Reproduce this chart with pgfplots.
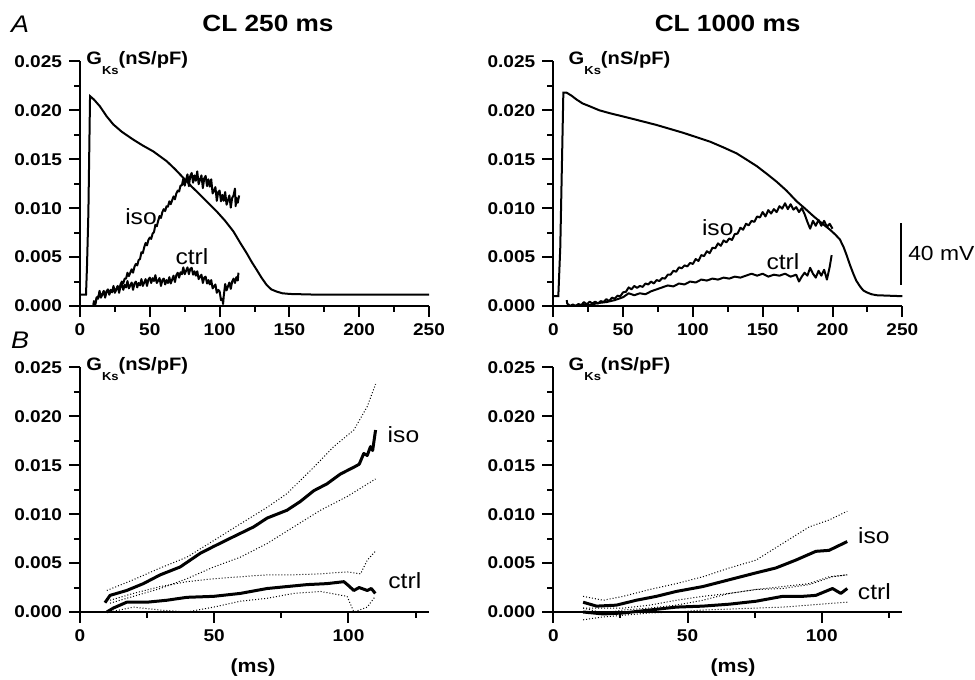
\documentclass[border=0pt]{standalone}
\usepackage{pgfplots}
\usepackage{fontspec}
\pgfplotsset{compat=1.18}
\setmainfont[FakeStretch=1.12]{Liberation Sans}

\pgfplotsset{
  gk/.style={
    scale only axis, width=174.5pt, height=122.3pt,
    axis lines=left, axis line style={-, line width=1pt},
    tick align=outside, major tick length=5.5pt, minor tick length=3pt,
    every tick/.style={black, line width=1pt},
    ymin=0, ymax=0.025, ytick={0,0.005,0.01,0.015,0.02,0.025},
    minor y tick num=1, scaled y ticks=false,
    yticklabel style={/pgf/number format/.cd, fixed, fixed zerofill, precision=3},
    /pgf/number format/assume math mode=true,
    ticklabel style={font=\fontsize{8.5}{10}\selectfont\bfseries},
    clip=false,
  },
  xtop/.style={xmin=0, xmax=250, xtick={0,50,...,250}, minor x tick num=1},
  xbot/.style={xmin=0, xmax=130, xtick={0,50,100}, minor xtick={25,75,125}},
  ap/.style={black, line width=1pt},
  trace/.style={black, line width=1pt, line join=round},
  mean/.style={black, line width=1.5pt, line join=round},
  band/.style={black, line width=0.5pt, densely dotted},
}
\tikzset{lab/.style={font=\fontsize{11}{12}\selectfont}}
\newcommand{\gks}{\fontsize{9}{10}\selectfont\bfseries G\raisebox{-5pt}{\fontsize{5.8}{7}\selectfont Ks}(nS/pF)}

\begin{document}
\begin{tikzpicture}
\useasboundingbox (0,0) rectangle (487.5pt,340pt);

\node[font=\fontsize{12}{14}\selectfont\itshape] at (10pt,328pt) {A};
\node[font=\fontsize{12}{14}\selectfont\itshape] at (10pt,170pt) {B};
\node[font=\fontsize{11.7}{13}\selectfont\bfseries] at (134pt,328.5pt) {CL 250 ms};
\node[font=\fontsize{11.7}{13}\selectfont\bfseries] at (363.8pt,328.5pt) {CL 1000 ms};
\node[font=\fontsize{9.5}{11}\selectfont\bfseries] at (126.5pt,6pt) {(ms)};
\node[font=\fontsize{9.5}{11}\selectfont\bfseries] at (366.5pt,6pt) {(ms)};

% A, CL 250 ms
\begin{axis}[gk, xtop, at={(40pt,187pt)}, anchor=south west]
\addplot[ap] coordinates {(0,0.00116) (4.3,0.00116) (5,0.004) (6,0.0095) (7.2,0.02145) (10,0.0211) (14.3,0.0204) (19,0.0194) (23.9,0.01855) (30,0.0178) (38.2,0.0170) (45,0.0164) (52.5,0.0158) (62.1,0.0148) (68,0.0140) (74,0.0131) (80,0.0122) (86,0.01137) (92,0.0105) (97.9,0.00967) (104,0.0087) (109.9,0.00762) (115,0.0064) (119.4,0.0054) (123,0.0045) (126.6,0.00369) (130,0.0029) (133.7,0.00215) (137,0.0017) (140.9,0.00147) (145,0.0013) (150.4,0.00123) (169.5,0.00116) (250,0.00116)};
% iso
\addplot[trace] coordinates {(9.6,0.0000) (10,0.0004) (11,0.0003) (12,0.0009) (13,0.00085) (14,0.0014) (15,0.00095) (16,0.0012) (17,0.00145) (18,0.0010) (19,0.00145) (20,0.0016) (21,0.00125) (22,0.0016) (23,0.00145) (24,0.0019) (25,0.00145) (26,0.0017) (27,0.0020) (28,0.0016) (29,0.0022) (30,0.0025) (31,0.0023) (32,0.0028) (33,0.0028) (34,0.0034) (35,0.00305) (36,0.0034) (37,0.00375) (38,0.0034) (39,0.0040) (40,0.0043) (41,0.00415) (42,0.0047) (43,0.0048) (44,0.0055) (45,0.0054) (46,0.0060) (47,0.00645) (48,0.0062) (49,0.00675) (50,0.0070) (51,0.00685) (52,0.0074) (53,0.00755) (54,0.0083) (55,0.00815) (56,0.0087) (57,0.0092) (58,0.0090) (59,0.0096) (60,0.0099) (61,0.0097) (62,0.0102) (63,0.01015) (64,0.0107) (65,0.0104) (66,0.0108) (67,0.0112) (68,0.0109) (69,0.0115) (70,0.0118) (71,0.0117) (72,0.0123) (73,0.01235) (74,0.0130) (75,0.0123) (76,0.0129) (77,0.01345) (78,0.01225) (79,0.0133) (80,0.0136) (81,0.0126) (82,0.01335) (83,0.0128) (84,0.01375) (85,0.01245) (86,0.0129) (87,0.01335) (88,0.01205) (89,0.01305) (90,0.0133) (91,0.01225) (92,0.01295) (93,0.0122) (94,0.01295) (95,0.0115) (96,0.0118) (97,0.01215) (98,0.01075) (99,0.01165) (100,0.0118) (101,0.0107) (102,0.01135) (103,0.01075) (104,0.01165) (105,0.01035) (106,0.0108) (107,0.0113) (108,0.01005) (109,0.01105) (110,0.0113) (111,0.0120) (111.5,0.0102) (112,0.01105) (113,0.01055) (114,0.0113)};
% ctrl
\addplot[trace] coordinates {(9.6,0.0000) (10,0.0005) (11,0.00015) (12,0.00085) (13,0.00075) (14,0.00155) (15,0.00085) (16,0.0012) (17,0.00155) (18,0.00085) (19,0.0015) (20,0.0017) (21,0.00115) (22,0.00165) (23,0.0014) (24,0.00205) (25,0.00135) (26,0.0017) (27,0.00205) (28,0.00135) (29,0.0020) (30,0.0022) (31,0.00165) (32,0.00215) (33,0.0019) (34,0.00255) (35,0.0018) (36,0.0021) (37,0.0024) (38,0.00165) (39,0.0023) (40,0.0025) (41,0.0019) (42,0.00235) (43,0.0021) (44,0.00275) (45,0.00205) (46,0.0024) (47,0.00275) (48,0.00205) (49,0.0027) (50,0.0029) (51,0.00235) (52,0.00285) (53,0.00255) (54,0.00315) (55,0.00235) (56,0.0026) (57,0.00285) (58,0.00205) (59,0.00265) (60,0.0028) (61,0.0022) (62,0.00265) (63,0.00235) (64,0.00295) (65,0.0023) (66,0.0027) (67,0.0031) (68,0.00245) (69,0.00315) (70,0.0034) (71,0.0029) (72,0.00345) (73,0.00325) (74,0.00395) (75,0.00325) (76,0.0036) (77,0.00395) (78,0.00325) (79,0.0038) (80,0.0039) (81,0.0032) (82,0.00355) (83,0.0031) (84,0.00355) (85,0.00275) (86,0.0030) (87,0.0032) (88,0.00235) (89,0.0029) (90,0.0030) (91,0.0023) (92,0.00265) (93,0.0022) (94,0.00265) (95,0.0018) (96,0.0020) (97,0.0022) (98,0.00135) (99,0.00165) (100,0.0015) (101,0.0006) (102,0.00075) (102.5,0.0002) (103,0.00105) (104,0.00225) (105,0.0016) (106,0.0020) (107,0.0024) (108,0.00175) (109,0.0025) (110,0.0028) (111,0.00235) (112,0.00295) (113,0.0026) (113.5,0.0034)};
\node[inner sep=0pt, anchor=base west, xshift=3pt, yshift=-1.7pt] at (rel axis cs:0,1) {\gks};
\node[lab] at (axis cs:43.7,0.0091) {iso};
\node[lab] at (axis cs:80.2,0.0050) {ctrl};
\end{axis}

% A, CL 1000 ms
\begin{axis}[gk, xtop, at={(276.65pt,187pt)}, anchor=south west]
\addplot[ap] coordinates {(0,0.00102) (3.6,0.00102) (5,0.006) (7.2,0.0218) (9.6,0.0218) (13,0.0215) (16.7,0.0211) (21,0.0207) (26.3,0.0204) (33,0.0200) (40.6,0.0197) (54.9,0.0192) (74,0.0185) (93.1,0.0177) (112.2,0.0168) (122,0.0162) (131.3,0.0156) (138,0.0150) (145.7,0.0143) (153,0.0135) (160,0.0127) (167,0.0118) (174.3,0.0107) (180,0.0100) (186.2,0.0092) (192,0.0085) (198.2,0.0078) (202,0.0073) (205.3,0.0068) (208,0.0060) (210.1,0.0052) (212.5,0.0042) (214.9,0.0033) (217,0.0026) (219.7,0.0020) (222,0.0016) (224.4,0.0014) (228,0.0012) (231.6,0.0011) (250,0.0010)};
% iso
\addplot[trace] coordinates {(9.6,0.0006) (10,0.00025) (12,0.0000) (14,0.00015) (16,0.0000) (18,0.0002) (20,0.0001) (22,0.0004) (24,0.00015) (26,0.00045) (28,0.00025) (30,0.00045) (32,0.00025) (34,0.0005) (36,0.0004) (38,0.0007) (40,0.0005) (42,0.00085) (44,0.00075) (46,0.00105) (48,0.0010) (50,0.0014) (52,0.00145) (54,0.0019) (56,0.0017) (58,0.00205) (60,0.00185) (62,0.00205) (64,0.00195) (66,0.0023) (68,0.0022) (70,0.0025) (72,0.0023) (74,0.00265) (76,0.00255) (78,0.00285) (80,0.0028) (82,0.0032) (84,0.0032) (86,0.0036) (88,0.0035) (90,0.00395) (92,0.00385) (94,0.00415) (96,0.00405) (98,0.0044) (100,0.0043) (102,0.0048) (104,0.0046) (106,0.0052) (108,0.0051) (110,0.0056) (112,0.0054) (114,0.00595) (116,0.0059) (118,0.0064) (120,0.00615) (122,0.0067) (124,0.0065) (126,0.0069) (128,0.00675) (130,0.00735) (132,0.0074) (134,0.0080) (136,0.0078) (138,0.0084) (140,0.00825) (142,0.0087) (144,0.0086) (146,0.00915) (148,0.00905) (150,0.0096) (152,0.00915) (154,0.0098) (156,0.00945) (158,0.0099) (160,0.0096) (162,0.0102) (164,0.00995) (166,0.0105) (168,0.0099) (170,0.0104) (172,0.00985) (174,0.0101) (176,0.0096) (178,0.0100) (180,0.0094) (182,0.0086) (184,0.0079) (186,0.0087) (188,0.0082) (190,0.0088) (192,0.0082) (194,0.0087) (196,0.0081) (198,0.0084) (200,0.0079)};
% ctrl
\addplot[trace] coordinates {(9.6,0.0000) (14,0.0000) (20,0.0001) (26,0.0001) (32,0.0003) (38,0.0004) (44,0.0006) (50,0.0009) (54,0.0013) (58,0.0011) (62,0.0013) (66,0.0012) (70,0.0015) (74,0.0017) (78,0.0019) (82,0.0021) (86,0.0020) (90,0.0023) (94,0.0022) (98,0.0025) (102,0.0024) (106,0.0027) (110,0.0026) (114,0.0028) (118,0.0027) (122,0.0029) (126,0.0028) (130,0.0030) (134,0.0029) (138,0.0031) (142,0.0033) (146,0.0031) (150,0.0033) (154,0.0030) (158,0.0032) (162,0.0031) (166,0.0033) (170,0.0030) (174,0.0032) (176,0.0025) (178,0.0030) (180,0.0034) (182,0.0031) (184,0.0039) (186,0.0033) (188,0.0029) (190,0.0036) (192,0.0031) (194,0.0037) (196,0.0027) (198,0.0040) (199.4,0.0052)};
\draw[line width=1pt] (axis cs:249,0.00215) -- (axis cs:249,0.0085);
\node[lab, inner sep=0pt, anchor=west, font=\fontsize{10.2}{12}\selectfont] at (axis cs:254,0.0054) {40 mV};
\node[inner sep=0pt, anchor=base west, xshift=7.5pt, yshift=-1.7pt] at (rel axis cs:0,1) {\gks};
\node[lab] at (axis cs:117.8,0.0080) {iso};
\node[lab] at (axis cs:164.5,0.0045) {ctrl};
\end{axis}

% B, CL 250 ms
\begin{axis}[gk, xbot, at={(40pt,34pt)}, anchor=south west]
\addplot[mean] coordinates {(9.3,0.00095) (11.2,0.0017) (17.4,0.0022) (23.6,0.0029) (29.9,0.0038) (37.3,0.0046) (44.8,0.0060) (49.8,0.0067) (57.2,0.0077) (64.7,0.0087) (69.7,0.0096) (77.1,0.0104) (82.1,0.0113) (87.1,0.0124) (92,0.0131) (97,0.0141) (102,0.0148) (104,0.0151) (105.7,0.0162) (107,0.0160) (108.2,0.0169) (109,0.0165) (110.1,0.0186)};
\addplot[band] coordinates {(10,0.0022) (19.9,0.0033) (29.9,0.0045) (39.8,0.0056) (49.8,0.0073) (59.7,0.0090) (69.7,0.0107) (77.1,0.0121) (87.1,0.0148) (94.5,0.0169) (102,0.0186) (107,0.0210) (110.1,0.0233)};
\addplot[band] coordinates {(11.2,0.0009) (19.9,0.0016) (29.9,0.0024) (39.8,0.0034) (49.8,0.0046) (59.7,0.0056) (69.7,0.0070) (79.6,0.0087) (89.6,0.0104) (99.5,0.0118) (110.1,0.0136)};
\addplot[mean] coordinates {(10,0) (12.4,0.0004) (17.4,0.0010) (24.9,0.0010) (32.3,0.0012) (39.8,0.0015) (49.8,0.0016) (59.7,0.0019) (69.7,0.0024) (77.1,0.0026) (84.6,0.0028) (92,0.0029) (98.3,0.0031) (100,0.0027) (102,0.0022) (104,0.0025) (107,0.0022) (108.5,0.0024) (110,0.0019)};
\addplot[band] coordinates {(11.2,0.0012) (19.9,0.0019) (29.9,0.0026) (39.8,0.0031) (49.8,0.0034) (59.7,0.0036) (69.7,0.0038) (79.6,0.0038) (89.6,0.0039) (99.5,0.0041) (104.5,0.0039) (107,0.0053) (110,0.0062)};
\addplot[band] coordinates {(11.2,0.0000) (19.9,0.0005) (29.9,0.0002) (39.8,0.0000) (49.8,0.0005) (59.7,0.0011) (69.7,0.0014) (79.6,0.0019) (89.6,0.0021) (99.5,0.0016) (102,0.0000) (107,0.0005) (110,0.0016)};
\node[inner sep=0pt, anchor=base west, xshift=3pt, yshift=-1.7pt] at (rel axis cs:0,1) {\gks};
\node[lab] at (axis cs:120.5,0.0181) {iso};
\node[lab] at (axis cs:121,0.0032) {ctrl};
\end{axis}

% B, CL 1000 ms
\begin{axis}[gk, xbot, at={(276.65pt,34pt)}, anchor=south west]
\addplot[mean] coordinates {(11.1,0.0010) (16.1,0.0006) (23.5,0.0007) (30.9,0.0012) (38.4,0.0016) (45.8,0.0021) (55.7,0.0026) (65.6,0.0033) (75.5,0.0040) (82.9,0.0045) (90.3,0.0053) (97.8,0.0062) (102.7,0.0063) (109.5,0.0072)};
\addplot[band] coordinates {(11.1,0.0016) (18.6,0.0012) (26,0.0016) (35.9,0.0023) (45.8,0.0029) (55.7,0.0036) (65.6,0.0045) (75.5,0.0053) (85.4,0.0070) (95.3,0.0087) (102.7,0.0094) (109.5,0.0103)};
\addplot[band] coordinates {(11.1,0.0004) (18.6,-0.0001) (26,0.0002) (35.9,0.0004) (45.8,0.0007) (55.7,0.0012) (65.6,0.0019) (75.5,0.0023) (85.4,0.0026) (95.3,0.0029) (102.7,0.0036) (109.5,0.0038)};
\addplot[mean] coordinates {(11.1,0.0000) (18.6,-0.0002) (26,-0.0001) (35.9,0.0002) (45.8,0.0005) (55.7,0.0006) (65.6,0.0008) (75.5,0.0011) (85.4,0.0016) (92.8,0.0016) (97.8,0.0017) (104,0.0024) (107.1,0.0019) (109.5,0.0024)};
\addplot[band] coordinates {(11.1,0.0004) (26,0.0004) (35.9,0.0007) (45.8,0.0012) (55.7,0.0016) (65.6,0.0019) (75.5,0.0023) (85.4,0.0024) (95.3,0.0028) (104,0.0036) (109.5,0.0038)};
\addplot[band] coordinates {(11.1,-0.0008) (18.6,-0.0005) (35.9,-0.0001) (45.8,0.0000) (55.7,0.0002) (65.6,0.0003) (75.5,0.0004) (85.4,0.0005) (95.3,0.0007) (104,0.0009) (109.5,0.0010)};
\node[inner sep=0pt, anchor=base west, xshift=7.5pt, yshift=-1.7pt] at (rel axis cs:0,1) {\gks};
\node[lab] at (axis cs:119.4,0.0078) {iso};
\node[lab] at (axis cs:119.6,0.0021) {ctrl};
\end{axis}
\end{tikzpicture}
\end{document}
